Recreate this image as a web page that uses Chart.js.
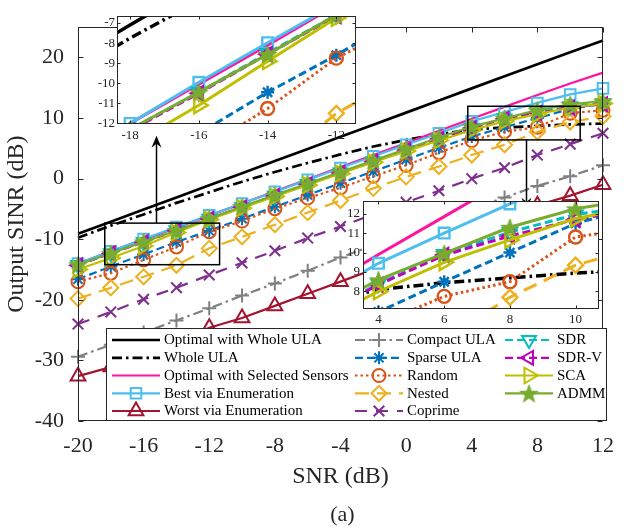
<!DOCTYPE html>
<html><head><meta charset="utf-8">
<script src="https://cdn.jsdelivr.net/npm/chart.js@4/dist/chart.umd.min.js"></script>
<style>
html,body{margin:0;padding:0;background:#fff;}
#wrap{position:relative;width:626px;height:527px;overflow:hidden;background:#fff;}
canvas{position:absolute;}
#cap{position:absolute;left:292px;width:101px;top:501px;height:24px;line-height:24px;text-align:center;font:22px "Liberation Serif","Times New Roman",serif;color:#262626;}
</style></head><body>
<div id="wrap">
<canvas id="main" width="626" height="527" style="left:0;top:0"></canvas>
<canvas id="in1" width="280" height="150" style="left:87px;top:5px"></canvas>
<canvas id="in2" width="275" height="140" style="left:335px;top:190px"></canvas>
<div id="cap">(a)</div>
</div>
<script>
// ---------- data ----------
const SNR_DB = [-20,-18,-16,-14,-12,-10,-8,-6,-4,-2,0,2,4,6,8,10,12];
const X_TICKS = [-20,-16,-12,-8,-4,0,4,8,12];
const Y_TICKS = [-40,-30,-20,-10,0,10,20];
const INSET1_X_TICKS = [-18,-16,-14,-12];
const INSET1_Y_TICKS = [-12,-11,-10,-9,-8,-7];
const INSET2_X_TICKS = [4,6,8,10];
const INSET2_Y_TICKS = [8,9,10,11,12];

const optimalWholeULA = [-9.1,-7.1,-5.1,-3.1,-1.1,0.9,2.9,4.9,6.9,8.9,10.9,12.9,14.9,16.9,18.9,20.85,22.8];
const wholeULA        = [-9.75,-7.75,-5.9,-4.0,-2.25,-0.5,1.1,2.6,4.0,5.3,6.4,7.35,8.1,8.45,8.7,8.95,9.1];
const optimalSelected = [-14.0,-12.0,-10.05,-8.1,-6.1,-4.1,-2.1,-0.1,1.9,3.9,5.9,7.9,9.9,11.85,13.8,15.7,17.5];
const bestEnum        = [-14.0,-12.0,-9.95,-7.98,-6.05,-4.1,-2.15,-0.2,1.75,3.7,5.6,7.5,9.45,11.0,12.5,13.9,14.9];
const worstEnum       = [-32.6,-31.1,-29.0,-26.8,-24.6,-23.0,-21.0,-19.0,-17.0,-15.0,-13.0,-11.0,-9.0,-6.8,-4.4,-2.8,-1.0];
const compactULA      = [-29.4,-27.4,-25.4,-23.4,-21.4,-19.3,-17.3,-15.2,-13.0,-11.0,-9.0,-7.0,-5.0,-3.1,-1.2,0.4,2.2];
const sparseULA       = [-16.6,-14.5,-12.5,-10.45,-8.6,-6.6,-4.65,-2.7,-0.75,1.2,3.15,5.1,6.95,8.5,10.0,11.5,12.4];
const randomArr       = [-17.0,-15.6,-13.4,-11.26,-8.75,-7.0,-4.95,-3.2,-1.5,0.4,2.2,4.3,6.3,7.75,8.5,10.8,11.3];
const nestedArr       = [-19.8,-18.0,-16.2,-14.3,-11.5,-9.6,-7.6,-5.6,-3.6,-1.6,0.3,2.0,3.9,5.6,7.7,9.35,10.3];
const coprimeArr      = [-24.0,-22.0,-19.9,-18.0,-15.9,-13.9,-11.9,-9.8,-7.9,-5.9,-3.9,-2.0,0.0,1.8,3.9,5.7,7.5];
const sdrArr          = [-14.25,-12.3,-10.45,-8.5,-6.6,-4.7,-2.8,-0.9,1.0,2.85,4.75,6.6,8.4,9.92,11.05,11.95,12.45];
const sdrVArr         = [-14.3,-12.35,-10.5,-8.55,-6.65,-4.75,-2.85,-0.95,0.95,2.8,4.7,6.55,8.35,9.87,10.85,11.7,12.3];
const scaArr          = [-15.0,-13.1,-11.1,-8.9,-6.75,-4.85,-2.95,-1.05,0.85,2.7,4.55,6.3,8.0,9.5,10.65,11.75,12.4];
const admmArr         = [-14.2,-12.3,-10.44,-8.56,-6.6,-4.6,-2.7,-0.8,1.1,3.0,4.9,6.8,8.6,9.96,11.3,12.25,12.8];

// ---------- styles ----------
function makePentagram(color, R) {
  const c = document.createElement('canvas');
  const s = Math.ceil(2 * R + 2); c.width = s; c.height = s;
  const g = c.getContext('2d');
  g.beginPath();
  for (let k = 0; k < 10; k++) {
    const r = k % 2 ? R * 0.40 : R;
    const a = -Math.PI / 2 + k * Math.PI / 5;
    g.lineTo(s / 2 + r * Math.cos(a), s / 2 + r * Math.sin(a) + R * 0.1);
  }
  g.closePath(); g.fillStyle = color; g.fill();
  g.strokeStyle = color; g.lineWidth = 1; g.stroke();
  return c;
}
const PENTA = makePentagram('#77AC30', 9.5);
const DASHDOT = [10,4,2.5,4];
const SERIES = [
  {label:'Optimal with Whole ULA', data:optimalWholeULA, color:'#000000', width:2.7, dash:[], marker:false},
  {label:'Whole ULA', data:wholeULA, color:'#000000', width:2.7, dash:DASHDOT, marker:false},
  {label:'Optimal with Selected Sensors', data:optimalSelected, color:'#FF14A0', width:2.2, dash:[], marker:false},
  {label:'Best via Enumeration', data:bestEnum, color:'#4DBEEE', width:2.2, dash:[], marker:'rect', r:7.5, rot:0},
  {label:'Worst via Enumeration', data:worstEnum, color:'#A2142F', width:2.2, dash:[], marker:'triangle', r:8.5, rot:0},
  {label:'Compact ULA', data:compactULA, color:'#808080', width:2.2, dash:DASHDOT, marker:'cross', r:7, rot:0},
  {label:'Sparse ULA', data:sparseULA, color:'#0072BD', width:2.2, dash:[8,4], marker:'star', r:6.5, rot:0},
  {label:'Random', data:randomArr, color:'#D95319', width:2.2, dash:[2.5,3], marker:'circle', r:6.5, rot:0},
  {label:'Nested', data:nestedArr, color:'#EDB120', width:2.2, dash:[14,8], marker:'rectRot', r:7.5, rot:0},
  {label:'Coprime', data:coprimeArr, color:'#7E2F8E', width:2.2, dash:[12,9], marker:'crossRot', r:7.5, rot:0},
  {label:'SDR', data:sdrArr, color:'#00BFBF', width:2.2, dash:[8,4], marker:'triangle', r:8, rot:180},
  {label:'SDR-V', data:sdrVArr, color:'#BF00BF', width:2.2, dash:[8,4], marker:'triangle', r:8, rot:-90},
  {label:'SCA', data:scaArr, color:'#BFBF00', width:2.2, dash:[], marker:'triangle', r:9, rot:90},
  {label:'ADMM', data:admmArr, color:'#77AC30', width:2.2, dash:[], marker:PENTA, r:9, rot:0},
];

const FONT = "'Liberation Serif','Times New Roman',serif";
const AXIS_COLOR = '#262626';
Chart.defaults.font.family = FONT;
Chart.defaults.color = AXIS_COLOR;

function buildDatasets(clip, extraWidth) {
  return SERIES.map((s, i) => ({
    label: s.label,
    data: SNR_DB.map((x, j) => ({x: x, y: s.data[j]})),
    borderColor: s.color,
    borderWidth: s.width + extraWidth,
    borderDash: s.dash,
    pointStyle: s.marker || 'circle',
    pointRadius: s.marker ? s.r : 0,
    pointRotation: s.rot || 0,
    pointBorderColor: s.color,
    pointBackgroundColor: 'rgba(0,0,0,0)',
    pointBorderWidth: 2 + extraWidth * 0.5,
    pointHoverRadius: 0,
    fill: false,
    tension: 0,
    spanGaps: true,
    order: SERIES.length - i,
    clip: clip
  }));
}

function framePlugin(tl, xt, yt, fillWhite) {
  return {
    id: 'frame' + Math.random(),
    beforeDatasetsDraw(chart) {
      if (!fillWhite) return;
      const a = chart.chartArea, ctx = chart.ctx;
      ctx.save(); ctx.fillStyle = '#fff';
      ctx.fillRect(a.left, a.top, a.right - a.left, a.bottom - a.top);
      ctx.restore();
    },
    afterDatasetsDraw(chart) {
      const a = chart.chartArea, ctx = chart.ctx, xs = chart.scales.x, ys = chart.scales.y;
      ctx.save();
      ctx.strokeStyle = AXIS_COLOR; ctx.lineWidth = 1; ctx.setLineDash([]);
      const L = Math.round(a.left) + 0.5, R = Math.round(a.right) - 0.5, T = Math.round(a.top) + 0.5, B = Math.round(a.bottom) - 0.5;
      ctx.strokeRect(L, T, R - L, B - T);
      ctx.beginPath();
      xt.forEach(v => { const p = Math.round(xs.getPixelForValue(v)) + 0.5;
        ctx.moveTo(p, B); ctx.lineTo(p, B - tl); ctx.moveTo(p, T); ctx.lineTo(p, T + tl); });
      yt.forEach(v => { const p = Math.round(ys.getPixelForValue(v)) + 0.5;
        ctx.moveTo(L, p); ctx.lineTo(L + tl, p); ctx.moveTo(R, p); ctx.lineTo(R - tl, p); });
      ctx.stroke();
      ctx.restore();
    }
  };
}

// ---------- annotations (zoom boxes and arrows, in data coordinates) ----------
const ZOOM_BOXES = [{x0:-18.37, x1:-11.37, y0:-14.2, y1:-7.34}, {x0:3.76, x1:10.61, y0:6.4, y1:11.95}];
const ARROWS = [{x:-15.24, y0:-7.34, y1:7.09}, {x:7.28, y0:6.4, y1:-5.12}];

const annotationPlugin = {
  id: 'zoomAnno',
  afterDatasetsDraw(chart) {
    const ctx = chart.ctx, xs = chart.scales.x, ys = chart.scales.y;
    ctx.save();
    ctx.strokeStyle = '#000'; ctx.fillStyle = '#000'; ctx.lineWidth = 1.5; ctx.setLineDash([]);
    ZOOM_BOXES.forEach(b => {
      const l = xs.getPixelForValue(b.x0), r = xs.getPixelForValue(b.x1);
      const t = ys.getPixelForValue(b.y1), bt = ys.getPixelForValue(b.y0);
      ctx.strokeRect(l, t, r - l, bt - t);
    });
    ARROWS.forEach(a => {
      const px = Math.round(xs.getPixelForValue(a.x)) + 0.5;
      const p0 = ys.getPixelForValue(a.y0), p1 = ys.getPixelForValue(a.y1);
      const dir = p1 > p0 ? 1 : -1;
      ctx.beginPath(); ctx.moveTo(px, p0); ctx.lineTo(px, p1 - dir * 6); ctx.stroke();
      ctx.beginPath();
      ctx.moveTo(px, p1);
      ctx.lineTo(px - 5, p1 - dir * 12);
      ctx.lineTo(px, p1 - dir * 8);
      ctx.lineTo(px + 5, p1 - dir * 12);
      ctx.closePath(); ctx.fill();
    });
    ctx.restore();
  }
};

// ---------- legend ----------
const LEGEND_BOX = {l:106, t:328, r:607, b:421};
const LEGEND_COLS = [112, 355, 505];
const LEGEND_ROWS = [340, 357.8, 375.5, 393.3, 411];
const LEGEND_LINE = 48;
const legendPlugin = {
  id: 'matLegend',
  afterDraw(chart) {
    const ctx = chart.ctx;
    ctx.save();
    ctx.fillStyle = '#fff';
    ctx.fillRect(LEGEND_BOX.l, LEGEND_BOX.t, LEGEND_BOX.r - LEGEND_BOX.l, LEGEND_BOX.b - LEGEND_BOX.t);
    ctx.strokeStyle = AXIS_COLOR; ctx.lineWidth = 1;
    ctx.strokeRect(LEGEND_BOX.l + 0.5, LEGEND_BOX.t + 0.5, LEGEND_BOX.r - LEGEND_BOX.l - 1, LEGEND_BOX.b - LEGEND_BOX.t - 1);
    SERIES.forEach((s, i) => {
      const col = Math.floor(i / 5), row = i % 5;
      const x0 = LEGEND_COLS[col], y = LEGEND_ROWS[row];
      ctx.save();
      ctx.strokeStyle = s.color; ctx.lineWidth = s.width; ctx.setLineDash(s.dash);
      ctx.beginPath(); ctx.moveTo(x0, y); ctx.lineTo(x0 + LEGEND_LINE, y); ctx.stroke();
      ctx.restore();
      if (s.marker) {
        ctx.save();
        ctx.strokeStyle = s.color; ctx.fillStyle = 'rgba(0,0,0,0)'; ctx.lineWidth = 2; ctx.setLineDash([]);
        Chart.helpers.drawPoint(ctx, {pointStyle: s.marker, rotation: s.rot || 0, radius: s.r, borderWidth: 2}, x0 + LEGEND_LINE / 2, y);
        ctx.restore();
      }
      ctx.fillStyle = '#000';
      ctx.font = "15px " + FONT;
      ctx.textBaseline = 'middle'; ctx.textAlign = 'left';
      ctx.fillText(s.label, x0 + LEGEND_LINE + 4, y + 0.5);
    });
    ctx.restore();
  }
};

// ---------- main chart ----------
new Chart(document.getElementById('main'), {
  type: 'line',
  data: {datasets: buildDatasets(false, 0)},
  options: {
    responsive: false, animation: false, devicePixelRatio: 1, events: [],
    layout: {padding: {top: 11, right: 19, bottom: 36, left: 0}},
    plugins: {legend: {display: false}, tooltip: {enabled: false}},
    scales: {
      x: {
        type: 'linear', min: -20, max: 12,
        afterBuildTicks: s => { s.ticks = X_TICKS.map(v => ({value: v})); },
        afterFit: s => { s.height = 70; },
        grid: {display: false, drawTicks: false}, border: {display: false},
        ticks: {font: {size: 22}, color: AXIS_COLOR, padding: 12, maxRotation: 0, autoSkip: false},
        title: {display: true, text: 'SNR (dB)', font: {size: 24}, color: AXIS_COLOR, padding: {top: 0, bottom: 0}}
      },
      y: {
        type: 'linear', min: -40, max: 25,
        afterBuildTicks: s => { s.ticks = Y_TICKS.map(v => ({value: v})); },
        afterFit: s => { s.width = 78; },
        grid: {display: false, drawTicks: false}, border: {display: false},
        ticks: {font: {size: 22}, color: AXIS_COLOR, padding: 14, autoSkip: false},
        title: {display: true, text: 'Output SINR (dB)', font: {size: 24}, color: AXIS_COLOR, padding: {top: 2, bottom: 0}}
      }
    }
  },
  plugins: [framePlugin(5, X_TICKS, Y_TICKS, false), annotationPlugin, legendPlugin]
});

// ---------- insets ----------
function makeInset(id, xr, yr, xt, yt, pad, yw, xh, lpadY, lpadX) {
  return new Chart(document.getElementById(id), {
    type: 'line',
    data: {datasets: buildDatasets(0, 0.8)},
    options: {
      responsive: false, animation: false, devicePixelRatio: 1, events: [],
      layout: {padding: pad},
      plugins: {legend: {display: false}, tooltip: {enabled: false}},
      scales: {
        x: {
          type: 'linear', min: xr[0], max: xr[1],
          afterBuildTicks: s => { s.ticks = xt.map(v => ({value: v})); },
          afterFit: s => { s.height = xh; },
          grid: {display: false, drawTicks: false}, border: {display: false},
          ticks: {font: {size: 13}, color: AXIS_COLOR, padding: lpadX, maxRotation: 0, autoSkip: false}
        },
        y: {
          type: 'linear', min: yr[0], max: yr[1],
          afterBuildTicks: s => { s.ticks = yt.map(v => ({value: v})); },
          afterFit: s => { s.width = yw; },
          grid: {display: false, drawTicks: false}, border: {display: false},
          ticks: {font: {size: 13}, color: AXIS_COLOR, padding: lpadY, autoSkip: false}
        }
      }
    },
    plugins: [framePlugin(3, xt, yt, true)]
  });
}
makeInset('in1', [-18.38, -11.44], [-12.03, -6.67], INSET1_X_TICKS, INSET1_Y_TICKS,
  {top: 10, right: 10, bottom: 0, left: 0}, 30, 31, 2, 4);
makeInset('in2', [3.53, 10.7], [7.1, 12.63], INSET2_X_TICKS, INSET2_Y_TICKS,
  {top: 11, right: 9, bottom: 0, left: 0}, 28, 21, 3, 3);
</script>
</body></html>
